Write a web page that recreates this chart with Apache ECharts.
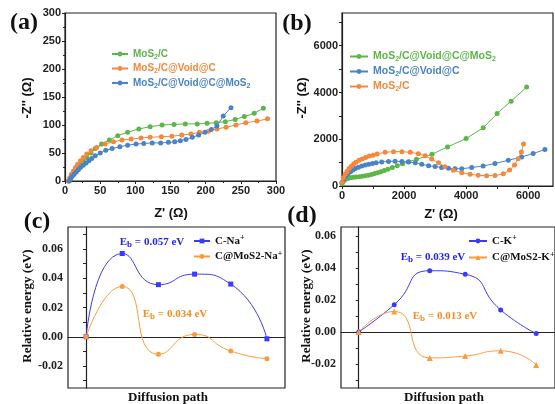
<!DOCTYPE html>
<html>
<head>
<meta charset="utf-8">
<script src="https://cdn.jsdelivr.net/npm/echarts@6/dist/echarts.min.js"></script>
<style>
  html, body { margin: 0; padding: 0; background: #fff; }
  #main { width: 555px; height: 404px; }
</style>
</head>
<body>
<div id="main"></div>
<script>
// (a) Nyquist, ohm
var aMoS2C = [[5,0],[7,5],[10,10],[13,16],[17,22],[21,28],[26,35],[31,42],[37,50],[43,58],[52,66],[63,73],[75,81],[89,87],[105,93],[121,97],[138,100],[155,101],[171,102],[188,102],[202,103],[215,104],[228,106],[242,110],[255,115],[269,121],[282,130]];
var aVoid = [[5,0],[7,6],[9,12],[12,18],[15,24],[18,30],[22,36],[26,42],[31,48],[37,54],[45,60],[57,66],[69,70],[81,73],[94,75],[108,77],[121,78],[137,79],[152,80],[166,82],[179,84],[191,87],[204,89],[216,93],[229,96],[243,100],[257,104],[273,107],[288,111]];
var aVoidMoS2 = [[6,0],[8,4],[10,8],[13,12],[16,16],[19,20],[22,24],[26,28],[30,32],[34,36],[38,40],[43,45],[50,50],[58,55],[67,58],[78,61],[89,64],[101,66],[112,67],[124,68],[136,68],[147,69],[156,70],[164,72],[172,74],[181,78],[190,82],[199,87],[208,92],[216,98],[225,116],[236,131]];

// (b) Nyquist, ohm
var bVoidMoS2 = [[0,100],[30,180],[60,240],[100,280],[150,310],[200,330],[280,350],[360,370],[450,385],[550,400],[650,420],[750,440],[850,465],[950,495],[1050,530],[1150,570],[1250,610],[1360,660],[1480,720],[1620,790],[1780,870],[1950,950],[2150,1040],[2400,1140],[2900,1360],[3400,1670],[4000,2030],[4550,2490],[5000,3100],[5450,3630],[5950,4230]];
var bVoid = [[0,150],[50,300],[110,400],[180,500],[270,600],[350,680],[430,750],[530,800],[640,860],[750,900],[860,930],[980,960],[1100,990],[1280,1030],[1500,1050],[1710,1060],[1930,1050],[2140,1030],[2360,990],[2570,930],[2790,870],[3000,830],[3210,790],[3430,760],[3640,740],[3860,740],[4180,790],[4550,860],[4930,960],[5360,1100],[5790,1240],[6160,1390],[6540,1560]];
var bMoS2C = [[0,150],[40,350],[100,500],[160,620],[230,750],[300,850],[380,950],[450,1020],[550,1100],[650,1160],[760,1220],[880,1280],[1000,1320],[1130,1370],[1390,1440],[1660,1470],[1930,1470],[2200,1440],[2460,1380],[2680,1290],[2890,1150],[3110,990],[3320,820],[3590,670],[3860,570],[4130,500],[4390,460],[4660,440],[4930,450],[5200,520],[5400,680],[5560,900],[5680,1170],[5780,1450],[5850,1800]];

// (c) / (d) diffusion path energies, eV
var pathSteps = [0,1,2,3,4,5];
var cNa = [0.000,0.0569,0.0356,0.0428,0.0360,-0.0014];
var cMoS2Na = [0.000,0.0344,-0.0120,0.0016,-0.0098,-0.0150];
var dK = [0.000,0.0170,0.0382,0.0360,0.0137,-0.0010];
var dMoS2K = [0.000,0.0128,-0.0162,-0.0150,-0.0118,-0.0206];

var bigLabels = [0,2000,4000,6000];
var bigTicks = [0,1000,2000,3000,4000,5000,6000,7000];
var eLabels = [-0.02,0,0.02,0.04,0.06];
var eTicks = [-0.03,-0.02,-0.01,0,0.01,0.02,0.03,0.04,0.05,0.06,0.07];

var GREEN = '#5cb648', ORANGE = '#f5883c', BLUE = '#4a84c8';
var VBLUE = '#3a3aff', VORANGE = '#ff9a3a';
var SANS = 'Liberation Sans', SERIF = 'Liberation Serif';

function pairs(xs, ys) { return xs.map(function (x, i) { return [x, ys[i]]; }); }

var myChart = echarts.init(document.getElementById('main'));

function sansAxis(idx, min, max, interval, labels, ticks) {
  var ax = {
    gridIndex: idx, type: 'value', min: min, max: max,
    axisLine: { show: true, lineStyle: { color: '#222', width: 1.2 } },
    splitLine: { show: false },
    axisLabel: { color: '#222', fontFamily: SANS, fontWeight: 'bold', fontSize: 11, margin: 4,
      formatter: function (v) { return String(v); } },
    axisTick: { show: true, length: 3, lineStyle: { color: '#222' } }
  };
  if (interval) {
    ax.interval = interval;
    ax.minorTick = { show: true, splitNumber: 2, length: 2, lineStyle: { color: '#222' } };
  } else {
    ax.axisLabel.customValues = labels;
    ax.axisTick.customValues = ticks;
  }
  return ax;
}

function serifY(idx, min, max) {
  return {
    gridIndex: idx, type: 'value', min: min, max: max,
    axisLine: { show: true, lineStyle: { color: '#222', width: 1.2 } },
    splitLine: { show: false },
    axisLabel: { customValues: eLabels, color: '#222', fontFamily: SERIF, fontWeight: 'bold', fontSize: 12, margin: 5,
      formatter: function (v) { return v.toFixed(2); } },
    axisTick: { show: true, customValues: eTicks, length: 3, lineStyle: { color: '#222' } }
  };
}

function serifX(idx, min, max) {
  return {
    gridIndex: idx, type: 'value', min: min, max: max,
    axisLine: { show: true, lineStyle: { color: '#222', width: 1.2 } },
    splitLine: { show: false }, axisLabel: { show: false }, axisTick: { show: false }
  };
}

function nyq(name, data, color, x) {
  return { name: name, type: 'line', xAxisIndex: x, yAxisIndex: x, data: data,
    symbol: 'circle', symbolSize: 5, itemStyle: { color: color },
    lineStyle: { color: color, width: 1 } };
}

function path(name, ys, color, x, sym, size) {
  return { name: name, type: 'line', xAxisIndex: x, yAxisIndex: x, data: pairs(pathSteps, ys),
    smooth: 0.6, symbol: sym, symbolSize: size, itemStyle: { color: color },
    lineStyle: { color: color, width: 1 } };
}

function sansRich(fs) {
  var sub = Math.round(fs * 0.7);
  function base(c) { return { color: c, fontFamily: SANS, fontWeight: 'bold', fontSize: fs }; }
  function low(c) { return { color: c, fontFamily: SANS, fontWeight: 'bold', fontSize: sub, padding: [6, 0, 0, 0] }; }
  return { g: base(GREEN), gs: low(GREEN), o: base(ORANGE), os: low(ORANGE), b: base(BLUE), bs: low(BLUE) };
}
var serifRich = {
  t: { color: '#111', fontFamily: SERIF, fontWeight: 'bold', fontSize: 11 },
  sup: { color: '#111', fontFamily: SERIF, fontWeight: 'bold', fontSize: 8, padding: [0, 0, 6, 0] }
};
var legendText = {
  'a1': '{g|MoS}{gs|2}{g|/C}',
  'a2': '{o|MoS}{os|2}{o|/C@Void@C}',
  'a3': '{b|MoS}{bs|2}{b|/C@Void@C@MoS}{bs|2}',
  'b1': '{g|MoS}{gs|2}{g|/C@Void@C@MoS}{gs|2}',
  'b2': '{b|MoS}{bs|2}{b|/C@Void@C}',
  'b3': '{o|MoS}{os|2}{o|/C}',
  'c1': '{t|C-Na}{sup|+}',
  'c2': '{t|C@MoS2-Na}{sup|+}',
  'd1': '{t|C-K}{sup|+}',
  'd2': '{t|C@MoS2-K}{sup|+}'
};

function legend(names, left, top, gap, rich, w) {
  return { data: names, orient: 'vertical', left: left, top: top, itemGap: gap,
    itemWidth: w, itemHeight: 6, padding: 0,
    formatter: function (n) { return legendText[n]; },
    textStyle: { rich: rich, padding: [0, 0, 0, 0] }, selectedMode: false };
}

function txt(x, y, text, font, color, rot) {
  return { type: 'text', x: x, y: y, rotation: rot || 0,
    style: { text: text, font: font, fill: color || '#111', align: 'center', verticalAlign: 'middle' } };
}

function ebText(x, y, val, color) {
  return { type: 'text', x: x, y: y,
    style: { text: '{e|E}{s|b}{e| = ' + val + ' eV}', align: 'center', verticalAlign: 'middle',
      rich: {
        e: { fill: color, fontFamily: SERIF, fontWeight: 'bold', fontSize: 11 },
        s: { fill: color, fontFamily: SERIF, fontWeight: 'bold', fontSize: 9, padding: [6, 0, 0, 0] }
      } } };
}

var option = {
  animation: false,
  grid: [
    { left: 65, top: 13, width: 211, height: 168, show: true, borderColor: '#222', borderWidth: 1.2 },
    { left: 342, top: 13, width: 211, height: 173, show: true, borderColor: '#222', borderWidth: 1.2 },
    { left: 68, top: 227, width: 217, height: 161, show: true, borderColor: '#222', borderWidth: 1.2 },
    { left: 341, top: 227, width: 217, height: 161, show: true, borderColor: '#222', borderWidth: 1.2 }
  ],
  xAxis: [
    sansAxis(0, 0, 300, 50),
    sansAxis(1, 0, 6800, null, bigLabels, bigTicks),
    serifX(2, -0.5, 5.5),
    serifX(3, -0.5, 5.53)
  ],
  yAxis: [
    sansAxis(0, 0, 300, 50),
    sansAxis(1, 0, 7400, null, bigLabels, bigTicks),
    serifY(2, -0.035, 0.075),
    serifY(3, -0.035, 0.0655)
  ],
  legend: [
    legend(['a1', 'a2', 'a3'], 111, 49, 3, sansRich(10), 16),
    legend(['b1', 'b2', 'b3'], 349, 51, 3, sansRich(10.5), 18),
    legend(['c1', 'c2'], 193, 234, 3, serifRich, 16),
    legend(['d1', 'd2'], 468, 234, 4, serifRich, 18)
  ],
  series: [
    nyq('a1', aMoS2C, GREEN, 0),
    nyq('a2', aVoid, ORANGE, 0),
    nyq('a3', aVoidMoS2, BLUE, 0),
    nyq('b1', bVoidMoS2, GREEN, 1),
    nyq('b2', bVoid, BLUE, 1),
    nyq('b3', bMoS2C, ORANGE, 1),
    path('c1', cNa, VBLUE, 2, 'rect', 5),
    path('c2', cMoS2Na, VORANGE, 2, 'circle', 5),
    path('d1', dK, VBLUE, 3, 'circle', 5),
    path('d2', dMoS2K, VORANGE, 3, 'triangle', 6)
  ],
  graphic: [
    txt(24, 23, '(a)', 'bold 24px "Liberation Serif"'),
    txt(297, 24, '(b)', 'bold 24px "Liberation Serif"'),
    txt(37, 222, '(c)', 'bold 24px "Liberation Serif"'),
    txt(302, 216, '(d)', 'bold 24px "Liberation Serif"'),
    txt(27, 98, "-Z'' (\u03a9)", 'bold 13px "Liberation Sans"', '#111', Math.PI / 2),
    txt(302, 98, "-Z'' (\u03a9)", 'bold 13px "Liberation Sans"', '#111', Math.PI / 2),
    txt(171, 213, "Z' (\u03a9)", 'bold 13px "Liberation Sans"'),
    txt(441, 214, "Z' (\u03a9)", 'bold 13px "Liberation Sans"'),
    txt(28, 306, 'Relative energy (eV)', 'bold 13px "Liberation Serif"', '#111', Math.PI / 2),
    txt(307, 306, 'Relative energy (eV)', 'bold 13px "Liberation Serif"', '#111', Math.PI / 2),
    txt(168, 398, 'Diffusion path', 'bold 13px "Liberation Serif"'),
    txt(444, 398, 'Diffusion path', 'bold 13px "Liberation Serif"'),
    ebText(152, 242, '0.057', '#2424ee'),
    ebText(175, 314, '0.034', '#ff8a1f'),
    ebText(433, 257, '0.039', '#2424ee'),
    ebText(445, 316, '0.013', '#ff8a1f')
  ]
};
myChart.setOption(option);
</script>
</body>
</html>
